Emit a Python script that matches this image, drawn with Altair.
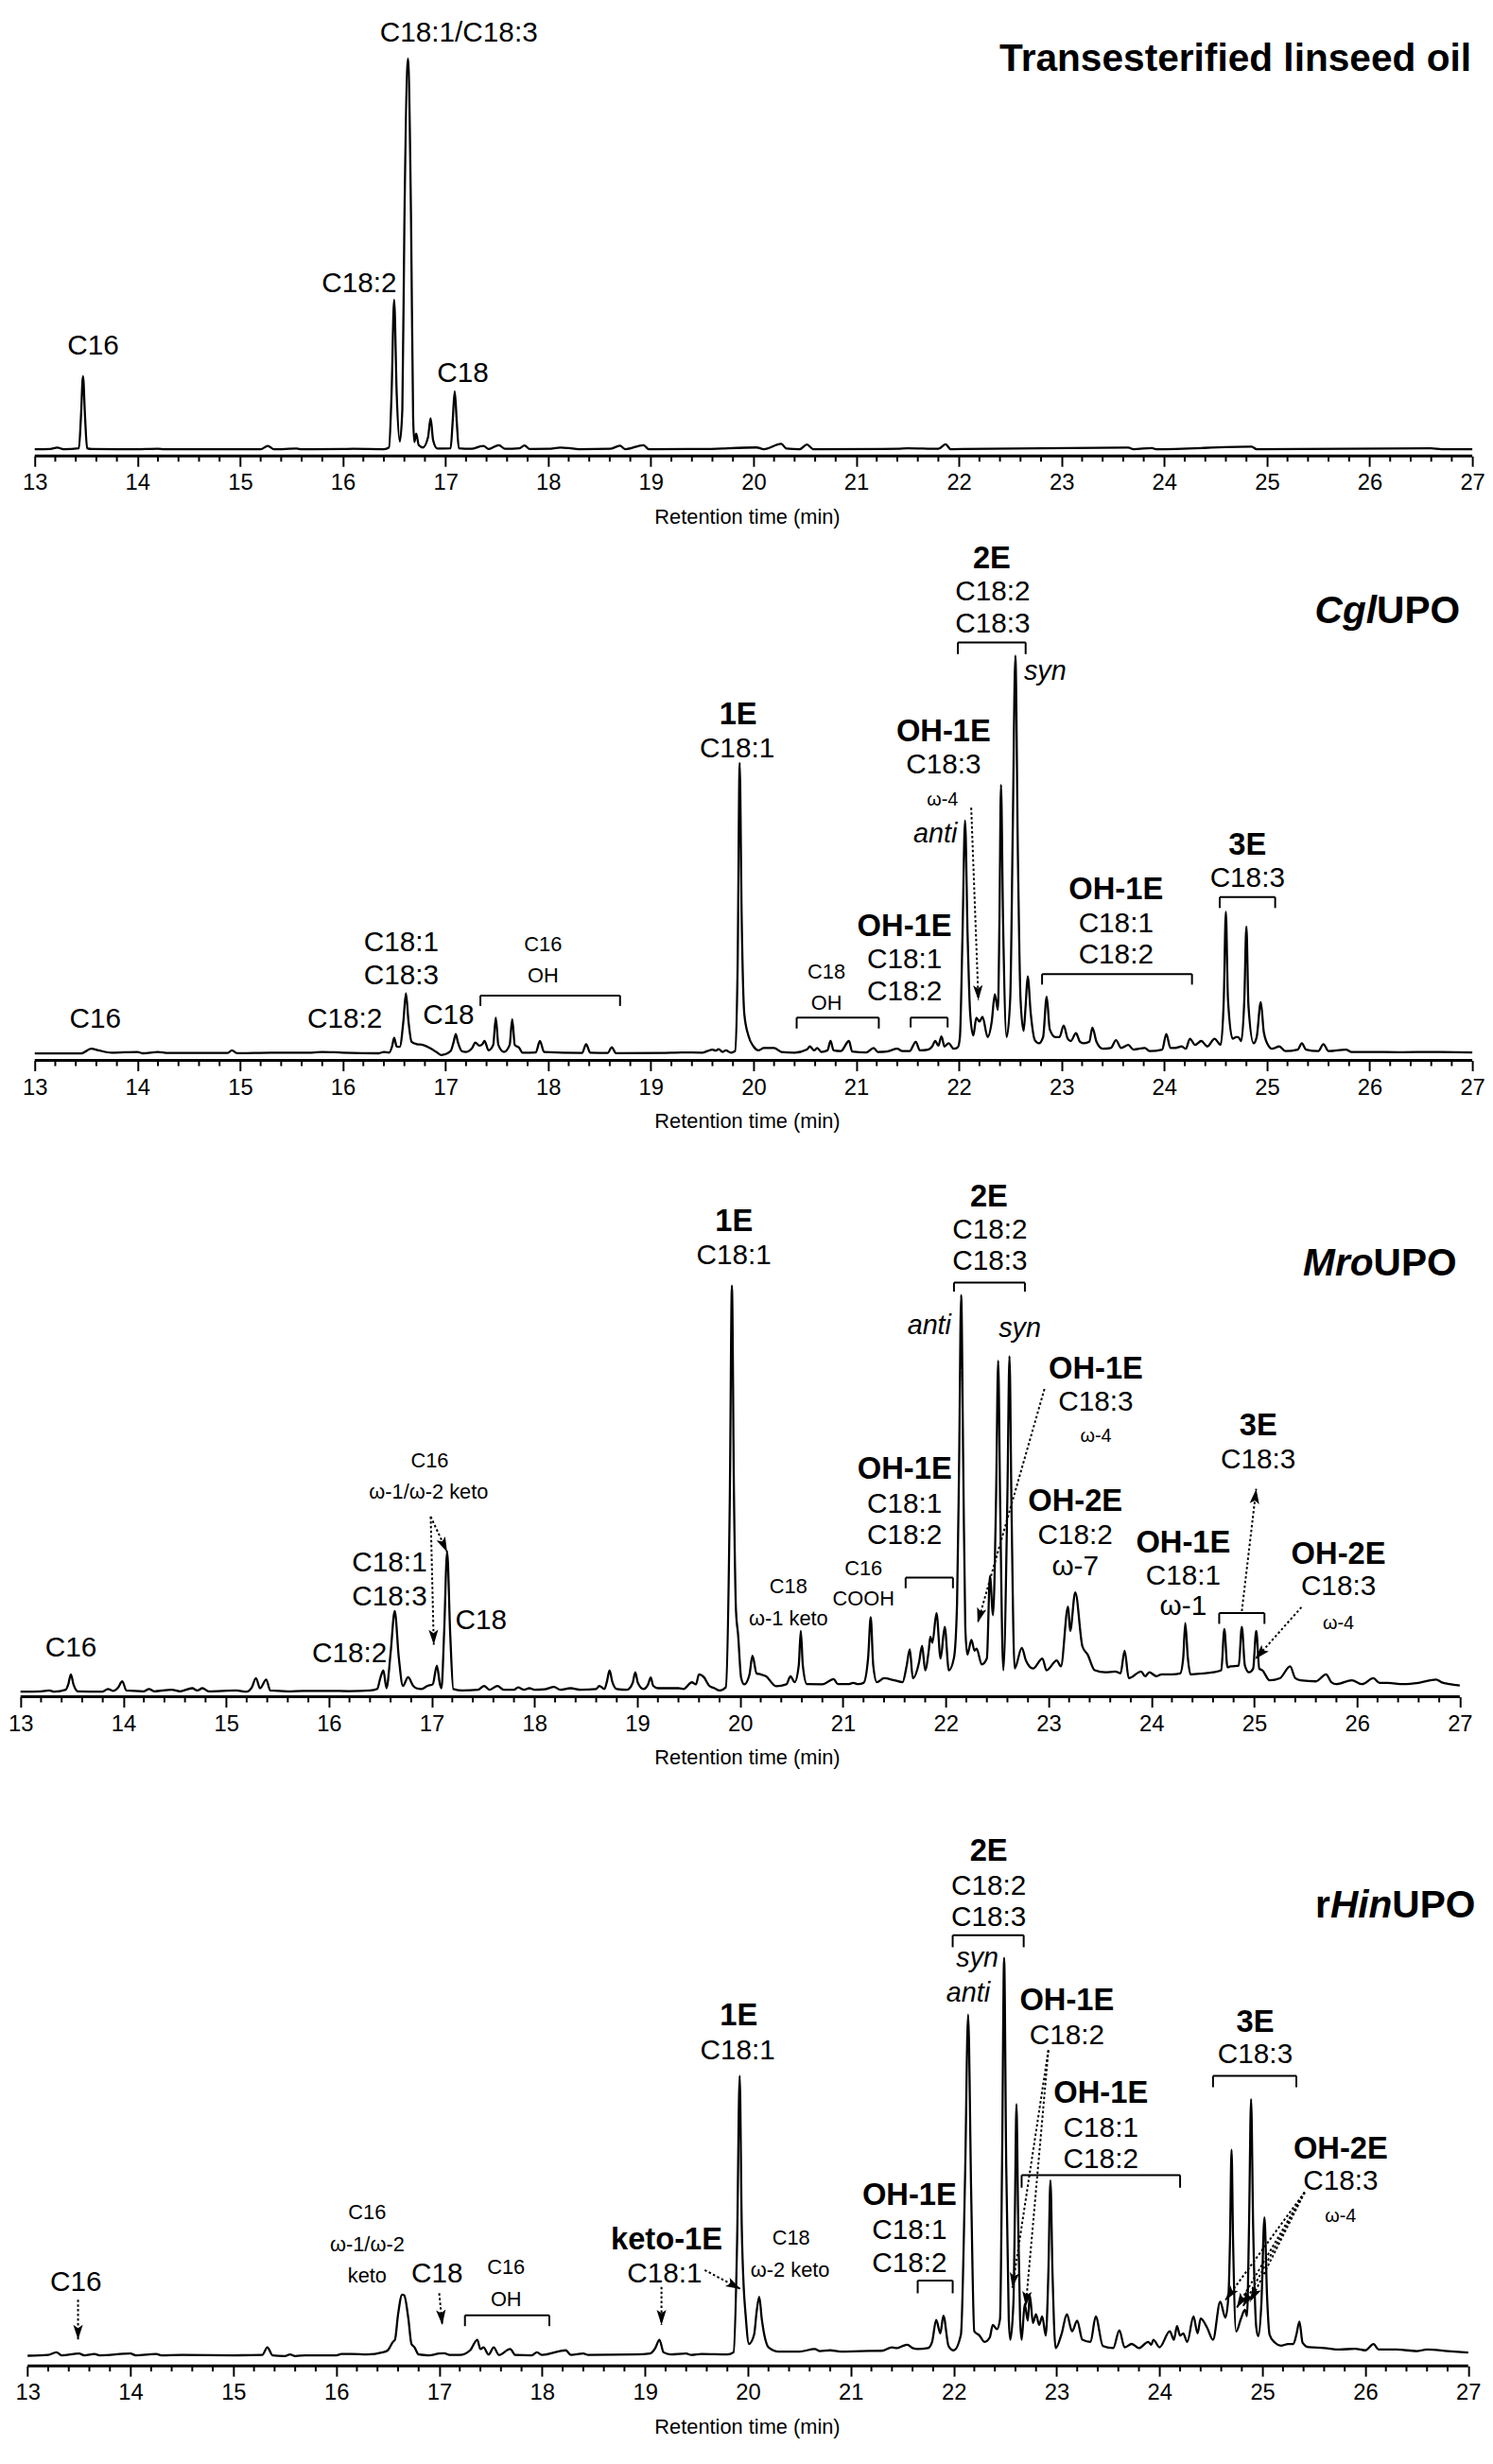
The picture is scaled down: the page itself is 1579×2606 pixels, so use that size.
import math
import altair as alt
import pandas as pd

FONT = "'Liberation Sans', Arial, sans-serif"

# ---------------- data: chromatogram vertices (retention time, signal a.u.) ----------------
trace_linseed = [
    (13.00,4.3),(13.15,4.5),(13.22,5.4),(13.28,4.3),(13.43,5.0),(13.45,25),(13.47,51.3),(13.49,25),(13.51,5.0),
    (13.56,4.5),(13.95,4.3),(14.20,4.7),(14.26,4.3),(15.20,4.3),(15.27,6.5),(15.33,4.3),(15.55,4.8),(15.60,4.3),
    (16.00,4.5),(16.10,4.6),(16.40,4.4),(16.45,5.5),(16.475,40),(16.50,100.3),(16.525,40),(16.555,9.3),(16.58,30),
    (16.60,150),(16.635,255.3),(16.665,150),(16.685,25),(16.697,9.0),(16.715,14.3),(16.74,7.0),(16.78,5.5),
    (16.83,12),(16.855,24.3),(16.88,10),(16.92,4.8),(17.05,5.0),(17.07,22),(17.09,41.5),(17.11,22),(17.13,5.0),
    (17.25,4.6),(17.37,6.5),(17.42,4.5),(17.52,7.0),(17.58,4.6),(17.72,5.0),(17.77,6.8),(17.82,4.5),(18.00,4.6),
    (18.12,5.4),(18.20,5.1),(18.30,4.4),(18.60,4.6),(18.70,6.6),(18.75,4.4),(18.93,7.0),(18.98,4.4),(19.50,4.5),
    (20.03,5.5),(20.10,4.4),(20.27,7.8),(20.32,4.8),(20.45,4.4),(20.52,7.4),(20.58,4.4),(21.40,4.6),(21.50,5.0),
    (21.80,4.6),(21.87,7.5),(21.92,4.4),(23.65,5.4),(23.70,4.4),(23.88,5.1),(23.92,4.4),(24.85,6.0),(24.90,4.4),
    (26.60,5.0),(26.70,4.4),(27.00,4.3),
]

trace_cgl = [
    (13.00,4.5),(13.45,4.5),(13.55,7.5),(13.62,6.5),(13.75,5.0),(14.00,5.5),(14.05,4.6),(14.20,5.5),(14.30,4.8),
    (14.88,4.8),(14.92,6.5),(14.97,4.7),(15.30,5.0),(15.70,5.0),(15.80,5.5),(16.00,5.0),(16.35,4.6),(16.40,5.5),
    (16.45,5.0),(16.48,9.0),(16.50,14.5),(16.525,9.0),(16.555,8.8),(16.59,25),(16.615,43),(16.64,25),(16.67,12),
    (16.72,10.5),(16.78,10),(16.85,8),(16.92,5),(16.96,3.5),(17.05,6),(17.08,12),(17.10,17),(17.12,12),(17.16,6),
    (17.20,5.5),(17.26,8),(17.29,11.5),(17.33,9.5),(17.36,10.5),(17.38,12.5),(17.42,6.5),(17.465,10),(17.49,27.5),
    (17.515,10),(17.57,5.5),(17.625,10),(17.65,26.5),(17.675,10),(17.72,8),(17.75,5),(17.88,5.2),(17.92,12.5),
    (17.96,5.5),(18.33,4.8),(18.37,10.5),(18.41,5),(18.58,4.8),(18.62,8.5),(18.66,4.7),(19.10,4.8),(19.30,5.2),
    (19.50,5),(19.55,6),(19.60,7),(19.63,6.3),(19.66,7.2),(19.70,5.5),(19.73,6.5),(19.78,5),(19.82,6),(19.845,60),
    (19.865,191),(19.885,90),(19.91,30),(19.95,16),(20.00,9),(20.05,6.5),(20.10,8),(20.20,8),(20.27,5.5),(20.40,5),
    (20.52,7),(20.55,9),(20.59,6.5),(20.62,8),(20.66,5.5),(20.72,6.5),(20.75,12.5),(20.78,6.5),(20.85,6),
    (20.93,12.5),(20.96,5.8),(21.10,5.2),(21.17,8),(21.21,5.5),(21.30,5.8),(21.40,7.5),(21.45,6),(21.52,6),
    (21.58,12),(21.62,6.5),(21.70,7),(21.74,9),(21.77,12.5),(21.80,9.5),(21.83,15.5),(21.86,9),(21.90,11),
    (21.95,7.5),(21.99,8.5),(22.01,15),(22.035,80),(22.06,154),(22.085,80),(22.11,30),(22.14,16),(22.17,27.5),
    (22.20,25),(22.23,28),(22.28,15),(22.32,25),(22.35,42.5),(22.38,32.5),(22.395,90),(22.41,177),(22.43,90),
    (22.465,15),(22.50,40),(22.525,150),(22.55,260),(22.575,130),(22.60,40),(22.63,19),(22.65,35),(22.67,54),
    (22.70,30),(22.74,13),(22.78,11),(22.82,15),(22.855,41),(22.885,20),(22.94,15),(22.98,15),(23.02,22.5),
    (23.06,14),(23.09,12.5),(23.14,17.5),(23.18,12),(23.22,11),(23.27,12),(23.30,21),(23.34,12),(23.40,7.5),
    (23.48,8),(23.53,13),(23.58,8),(23.65,10),(23.70,7),(23.81,8),(23.86,6),(23.98,7),(24.02,17),(24.06,8),
    (24.10,8),(24.17,9),(24.21,7.5),(24.25,14),(24.30,10),(24.36,12.5),(24.42,9),(24.49,14),(24.55,10),(24.58,40),
    (24.60,95.5),(24.62,40),(24.665,14),(24.70,15),(24.72,15),(24.75,12.5),(24.78,40),(24.80,86),(24.82,35),
    (24.87,11),(24.90,15),(24.94,37.5),(24.97,18),(25.02,9),(25.05,7.5),(25.12,9),(25.18,6),(25.30,7),(25.34,11),
    (25.38,7),(25.50,6),(25.55,10.5),(25.60,6),(25.77,7),(25.82,5.5),(26.00,5.5),(26.30,5.3),(26.60,5.5),(27.00,5.2),
]

trace_mro = [
    (13.00,3.3),(13.20,3.5),(13.28,4.0),(13.33,3.3),(13.44,4.5),(13.465,8),(13.49,14.4),(13.515,8),(13.56,3.5),
    (13.80,3.3),(13.85,5),(13.90,3.8),(13.95,6),(13.99,10),(14.03,4),(14.20,3.5),(14.25,5),(14.30,3.5),(14.47,4.5),
    (14.55,3.5),(14.67,5.5),(14.72,4),(14.77,5.5),(14.83,3.5),(15.10,4),(15.20,3.3),(15.25,6),(15.29,12),(15.33,5.5),
    (15.39,11),(15.43,4),(15.60,3.5),(15.75,3.8),(16.00,3.8),(16.20,3.6),(16.40,4),(16.47,5),(16.50,12),(16.53,17),
    (16.56,5.5),(16.60,28),(16.64,55),(16.68,25),(16.72,7),(16.77,12.5),(16.82,7),(16.85,5.5),(16.90,5),(16.96,7),
    (17.01,8),(17.05,20),(17.08,8),(17.095,5.5),(17.12,40),(17.15,93),(17.18,40),(17.21,5),(17.30,4),(17.45,4.5),
    (17.51,7),(17.56,4.5),(17.64,7),(17.70,4.5),(17.80,4.5),(17.84,6),(17.90,4.5),(17.95,5.5),(18.00,4.5),
    (18.10,4.8),(18.19,6.3),(18.25,4.5),(18.35,5.5),(18.45,4.5),(18.60,5),(18.63,7),(18.68,5),(18.705,10),
    (18.73,17),(18.755,10),(18.80,5),(18.90,4.5),(18.955,9),(18.98,15.7),(19.005,9),(19.06,5),(19.105,8),
    (19.13,12.4),(19.155,7),(19.20,5.5),(19.40,5.5),(19.45,5),(19.53,9.3),(19.57,8),(19.60,14.4),(19.65,12.4),
    (19.70,7),(19.75,5.5),(19.80,4),(19.86,6),(19.90,130),(19.92,264),(19.94,130),(19.96,55),(19.98,40),(20.01,12),
    (20.04,8),(20.09,14),(20.12,26.3),(20.16,15),(20.20,14.4),(20.25,13.2),(20.35,6.8),(20.45,8),(20.49,13.2),
    (20.53,9.4),(20.57,20),(20.59,42.3),(20.61,20),(20.65,8.1),(20.80,8),(20.91,11.4),(20.95,8.1),(21.05,8.1),
    (21.10,8.9),(21.15,8.1),(21.20,8.9),(21.245,25),(21.27,51.1),(21.295,20),(21.33,9.4),(21.40,11.9),(21.50,10.6),
    (21.58,9.4),(21.62,20),(21.65,30.4),(21.68,11.9),(21.74,22),(21.77,32.7),(21.80,17),(21.835,30),(21.85,38.5),
    (21.87,34.7),(21.91,53.7),(21.95,24.6),(21.99,44.8),(22.03,17),(22.08,25),(22.11,60),(22.13,150),(22.15,258),
    (22.17,150),(22.19,45),(22.21,27.1),(22.25,36.5),(22.28,29.6),(22.30,30.9),(22.35,20.8),(22.40,24.6),
    (22.43,77.7),(22.46,52.4),(22.49,130),(22.51,215.7),(22.53,120),(22.56,17),(22.60,130),(22.62,218.7),
    (22.64,120),(22.67,18.2),(22.74,31.4),(22.78,23.3),(22.85,18.2),(22.94,24.6),(22.98,17),(23.08,23.3),
    (23.12,19.5),(23.19,58),(23.21,42.3),(23.26,67.1),(23.33,32.2),(23.38,27.1),(23.45,17),(23.55,15.7),
    (23.65,16.2),(23.70,15),(23.74,29.6),(23.78,11.9),(23.90,16.2),(23.94,13.2),(23.98,15.7),(24.05,13.2),
    (24.10,14.4),(24.20,14.4),(24.28,15),(24.31,25),(24.33,47.3),(24.355,25),(24.38,14.4),(24.50,15),(24.60,15.7),
    (24.68,17),(24.71,43.5),(24.74,19),(24.77,19.5),(24.85,20),(24.88,44.8),(24.91,20),(24.95,15.7),(24.99,18),
    (25.02,42.3),(25.05,18),(25.08,17),(25.15,10.6),(25.25,11.9),(25.35,19.5),(25.40,11.9),(25.45,10.6),
    (25.60,9.9),(25.70,14.4),(25.75,9.4),(25.80,8.1),(25.95,10.6),(26.05,8.1),(26.16,11.9),(26.22,8.9),(26.30,8.9),
    (26.45,8.1),(26.60,8.9),(26.77,11.1),(26.82,9.4),(26.90,8.1),(27.00,7.3),
]

trace_hin = [
    (13.00,6.5),(13.20,7.0),(13.28,8.7),(13.33,6.8),(13.50,7.9),(13.55,6.8),(13.65,7.6),(13.70,6.8),(14.00,7.9),
    (14.05,6.8),(14.25,7.6),(14.30,6.8),(14.50,7.0),(15.00,6.8),(15.28,7.0),(15.33,11.9),(15.38,6.8),(15.50,6.3),
    (15.55,7.3),(15.60,6.3),(15.70,6.8),(16.00,6.8),(16.05,7.6),(16.15,7.6),(16.30,7.3),(16.45,8.7),(16.50,10),
    (16.55,15.4),(16.57,16.8),(16.60,33),(16.64,45.8),(16.66,45.3),(16.70,30.4),(16.73,14.1),(16.76,11.9),
    (16.80,7.3),(16.90,6.8),(17.00,7.9),(17.05,8.1),(17.10,7.0),(17.20,7.0),(17.30,10),(17.37,16.8),(17.40,10.8),
    (17.43,11.9),(17.48,7.3),(17.53,11.9),(17.58,7.0),(17.69,10.8),(17.74,7.0),(17.90,6.8),(17.95,8.7),(18.00,7.0),
    (18.23,10),(18.28,7.0),(18.40,7.9),(18.45,7.0),(18.90,7.3),(19.05,7.9),(19.10,11.4),(19.14,16.8),(19.18,8.7),
    (19.25,7.3),(19.40,7.9),(19.45,7.0),(19.55,7.6),(19.80,7.3),(19.86,8.7),(19.895,80),(19.92,186.2),(19.94,90),
    (19.96,49.3),(19.975,35),(20.01,14.1),(20.06,20),(20.085,35),(20.11,44.4),(20.135,30),(20.17,16.8),(20.20,11.9),
    (20.30,9.2),(20.50,9.2),(20.65,10.8),(20.70,9.5),(20.80,10),(20.90,9.2),(21.10,9.5),(21.30,9.7),(21.40,11.9),
    (21.45,11.4),(21.50,12.7),(21.55,13.6),(21.60,11.4),(21.65,10.8),(21.75,11.4),(21.79,15.4),(21.83,29.5),
    (21.87,20.9),(21.90,32.2),(21.95,12.7),(22.00,10),(22.07,20),(22.11,120),(22.14,225.5),(22.17,110),(22.20,22.2),
    (22.25,19.5),(22.30,15.4),(22.35,18.2),(22.38,26.3),(22.42,23.6),(22.45,30),(22.47,130),(22.49,262),(22.51,130),
    (22.535,30),(22.55,16.8),(22.58,40),(22.595,100),(22.61,168),(22.625,100),(22.645,30),(22.66,16.8),(22.69,39.8),
    (22.72,29),(22.74,45.3),(22.77,27.6),(22.80,33.1),(22.83,26.3),(22.86,31.7),(22.895,19.5),(22.92,60),(22.94,119),
    (22.96,60),(22.99,11.4),(23.05,20.9),(23.10,33.1),(23.15,22.2),(23.20,29),(23.25,16.8),(23.33,15.4),(23.38,31.7),
    (23.45,12.7),(23.55,11.4),(23.61,22.8),(23.66,11.9),(23.73,14.1),(23.80,11.4),(23.89,15.4),(23.92,13.5),
    (23.94,16.8),(24.00,11.9),(24.10,22.2),(24.14,16.8),(24.17,25.5),(24.20,19.5),(24.23,20.9),(24.27,15.4),
    (24.33,31.7),(24.37,20.9),(24.40,30.4),(24.46,24.9),(24.52,16.8),(24.59,41.2),(24.64,31),(24.67,45),(24.685,80),
    (24.70,138.8),(24.715,80),(24.745,22),(24.79,30),(24.83,36),(24.85,32),(24.87,90),(24.89,171.3),(24.91,90),
    (24.94,25),(24.96,19),(24.99,40),(25.02,95.4),(25.045,45),(25.07,20),(25.12,15),(25.18,13),(25.25,14),(25.30,14),
    (25.33,20),(25.36,28.5),(25.39,15),(25.45,12),(25.60,11.5),(25.75,10.5),(25.90,11),(26.00,10),(26.08,14),
    (26.13,10.5),(26.30,10.5),(26.50,9.5),(26.60,10.5),(26.80,9.5),(27.00,8.5),
]

# ---------------- annotations: (time, height, text, kind) ----------------
labels_linseed = [
    (13.57, 65.1, "C16", "big"),
    (16.16, 105.3, "C18:2", "big"),
    (17.13, 266.0, "C18:1/C18:3", "big"),
    (17.17, 47.3, "C18", "big"),
]
title_linseed = ([("Transesterified linseed oil", "b")], 26.99, 247.4)

labels_cgl = [
    (13.59, 21.2, "C16", "big"), (16.02, 21.2, "C18:2", "big"),
    (16.57, 70.4, "C18:1", "big"), (16.57, 49.2, "C18:3", "big"),
    (17.03, 23.7, "C18", "big"),
    (17.95, 70.4, "C16", "small"), (17.95, 49.9, "OH", "small"),
    (19.85, 216.0, "1E", "bold"), (19.84, 194.8, "C18:1", "big"),
    (22.32, 315.8, "2E", "bold"), (22.33, 295.1, "C18:2", "big"), (22.33, 274.7, "C18:3", "big"),
    (22.84, 244.1, "syn", "ital"),
    (21.85, 204.8, "OH-1E", "bold"), (21.85, 184.3, "C18:3", "big"), (21.84, 163.6, "ω-4", "tiny"),
    (21.77, 139.9, "anti", "ital"),
    (21.47, 79.9, "OH-1E", "bold"), (21.47, 59.2, "C18:1", "big"), (21.47, 38.7, "C18:2", "big"),
    (20.71, 52.5, "C18", "small"), (20.71, 32.5, "OH", "small"),
    (23.53, 103.6, "OH-1E", "bold"), (23.53, 82.4, "C18:1", "big"), (23.53, 62.4, "C18:2", "big"),
    (24.81, 132.3, "3E", "bold"), (24.81, 111.6, "C18:3", "big"),
]
title_cgl = ([("Cgl", "bi"), ("UPO", "b")], 26.88, 280.9)
brackets_cgl = [(17.34, 18.70, 41.7, 35.0), (20.42, 21.22, 27.5, 20.5), (21.53, 21.89, 27.5, 21.2),
                (21.99, 22.65, 268.4, 260.9), (22.81, 24.27, 55.5, 48.7), (24.54, 25.08, 104.9, 97.9)]
arrows_cgl = [(22.12, 162.3, 22.19, 38.7)]

labels_mro = [
    (13.49, 25.8, "C16", "big"), (16.20, 22.1, "C18:2", "big"),
    (16.59, 80.3, "C18:1", "big"), (16.59, 58.8, "C18:3", "big"),
    (17.48, 43.6, "C18", "big"),
    (16.98, 147.4, "C16", "small"), (16.97, 127.1, "ω-1/ω-2 keto", "small"),
    (19.94, 299.3, "1E", "bold"), (19.94, 277.8, "C18:1", "big"),
    (22.42, 314.5, "2E", "bold"), (22.43, 294.3, "C18:2", "big"), (22.43, 274.0, "C18:3", "big"),
    (21.84, 232.8, "anti", "ital"), (22.72, 231.0, "syn", "ital"),
    (23.46, 204.4, "OH-1E", "bold"), (23.46, 183.6, "C18:3", "big"), (23.46, 163.9, "ω-4", "tiny"),
    (21.60, 139.8, "OH-1E", "bold"), (21.60, 118.3, "C18:1", "big"), (21.60, 98.0, "C18:2", "big"),
    (21.20, 78.3, "C16", "small"), (21.20, 58.8, "COOH", "small"),
    (20.47, 66.3, "C18", "small"), (20.47, 46.1, "ω-1 keto", "small"),
    (23.26, 119.5, "OH-2E", "bold"), (23.26, 98.0, "C18:2", "big"), (23.26, 77.8, "ω-7", "big"),
    (24.31, 92.9, "OH-1E", "bold"), (24.31, 72.2, "C18:1", "big"), (24.31, 52.4, "ω-1", "big"),
    (25.04, 167.7, "3E", "bold"), (25.04, 146.7, "C18:3", "big"),
    (25.82, 85.4, "OH-2E", "bold"), (25.82, 65.1, "C18:3", "big"), (25.82, 43.6, "ω-4", "tiny"),
]
title_mro = ([("Mro", "bi"), ("UPO", "b")], 26.97, 270.2)
brackets_mro = [(21.61, 22.07, 76.5, 69.7), (22.08, 22.77, 265.9, 260.1), (24.66, 25.10, 53.7, 46.8)]
arrows_mro = [(16.99, 115.7, 17.02, 33.4), (16.99, 115.7, 17.15, 92.9), (22.96, 197.6, 22.31, 47.4),
              (24.88, 55.0, 25.02, 133.5), (25.46, 57.5, 25.01, 24.1)]

labels_hin = [
    (13.47, 48.0, "C16", "big"),
    (16.30, 94.0, "C16", "small"), (16.30, 73.7, "ω-1/ω-2", "small"), (16.30, 53.4, "keto", "small"),
    (16.98, 53.4, "C18", "big"),
    (17.65, 58.8, "C16", "small"), (17.65, 38.5, "OH", "small"),
    (19.21, 75.1, "keto-1E", "bold"), (19.19, 53.4, "C18:1", "big"),
    (19.91, 218.7, "1E", "bold"), (19.90, 197.0, "C18:1", "big"),
    (20.42, 77.8, "C18", "small"), (20.41, 57.5, "ω-2 keto", "small"),
    (21.57, 103.5, "OH-1E", "bold"), (21.57, 81.3, "C18:1", "big"), (21.57, 60.2, "C18:2", "big"),
    (22.34, 324.4, "2E", "bold"), (22.34, 302.7, "C18:2", "big"), (22.34, 282.4, "C18:3", "big"),
    (22.23, 256.6, "syn", "ital"), (22.14, 233.6, "anti", "ital"),
    (23.10, 228.2, "OH-1E", "bold"), (23.10, 206.5, "C18:2", "big"),
    (23.43, 168.6, "OH-1E", "bold"), (23.43, 146.9, "C18:1", "big"), (23.43, 127.1, "C18:2", "big"),
    (24.93, 214.6, "3E", "bold"), (24.93, 194.3, "C18:3", "big"),
    (25.76, 133.3, "OH-2E", "bold"), (25.76, 113.0, "C18:3", "big"), (25.76, 92.7, "ω-4", "tiny"),
]
title_hin = ([("r", "b"), ("Hin", "bi"), ("UPO", "b")], 27.07, 287.8)
brackets_hin = [(17.25, 18.07, 32.5, 25.5), (21.65, 21.99, 54.8, 46.6), (21.99, 22.68, 276.5, 268.8),
                (22.66, 24.20, 122.5, 114.4), (24.52, 25.33, 186.2, 178.9)]
arrows_hin = [(13.49, 42.5, 13.49, 16.8), (17.00, 46.6, 17.03, 26.3), (19.16, 50.7, 19.16, 26.3),
              (19.58, 61.5, 19.93, 49.3), (22.92, 202.7, 22.57, 50.2), (22.92, 202.7, 22.70, 38.2),
              (25.41, 111.4, 24.64, 42.2), (25.41, 111.4, 24.75, 37.2), (25.41, 111.4, 24.81, 38.0),
              (25.41, 111.4, 24.88, 41.2)]

MAJOR_TICKS = list(range(13, 28))
MINOR_TICKS = [round(13 + 0.2 * i, 1) for i in range(71) if i % 5 != 0]

# ---------------- styling ----------------
W = 1560
K = 1.662  # px per signal unit
STYLES = {
    "big": dict(fontSize=30),
    "bold": dict(fontSize=33, fontWeight="bold"),
    "small": dict(fontSize=22),
    "tiny": dict(fontSize=20),
    "ital": dict(fontSize=29, fontStyle="italic"),
}
TITLE_SIZE = 41
# approximate advance widths (em) of Arial/Liberation Sans Bold, used to butt title pieces together
EM_BOLD = {"U": .722, "P": .667, "O": .778, "C": .722, "g": .611, "l": .278, "M": .833,
           "r": .389, "o": .611, "H": .722, "i": .278, "n": .611}
ARROW = "M0,0 L0.32,1 L0,0.78 L-0.32,1 Z"


def panel(trace, labels, brackets, arrows, title, h, xdom):
    xs = alt.Scale(domain=list(xdom), nice=False, zero=False)
    ys = alt.Scale(domain=[0, h / K], nice=False, zero=False)
    ppm = W / (xdom[1] - xdom[0])

    axis = alt.Axis(values=MAJOR_TICKS, format="d", domain=False, grid=False,
                    tickSize=11, tickWidth=2, tickColor="black",
                    labelFont=FONT, labelFontSize=24, labelColor="black", labelPadding=6,
                    labelFlush=False, labelOverlap=False,
                    title="Retention time (min)", titleFont=FONT, titleFontSize=22,
                    titleFontWeight="normal", titleColor="black", titlePadding=14)

    def X(f):
        return alt.X(f, type="quantitative", scale=xs, axis=axis)

    def Y(f):
        return alt.Y(f, type="quantitative", scale=ys, axis=None)

    df = pd.DataFrame(trace, columns=["t", "v"])
    layers = [
        alt.Chart(df).mark_line(color="black", strokeWidth=2.3, interpolate="monotone").encode(
            x=X("t"), y=Y("v")),
        alt.Chart(pd.DataFrame({"t": [MAJOR_TICKS[0]], "b": [MAJOR_TICKS[-1]]})).mark_rule(
            color="black", strokeWidth=3).encode(x=X("t"), x2="b:Q", y=alt.value(h)),
        alt.Chart(pd.DataFrame({"t": MINOR_TICKS})).mark_rule(color="black", strokeWidth=2).encode(
            x=X("t"), y=alt.value(h), y2=alt.value(h + 6)),
    ]

    if brackets:
        rows = []
        for tl, tr, yt, yl in brackets:
            rows.append((tl, tr, yt, yt))
            rows.append((tl, tl, yl, yt))
            rows.append((tr, tr, yl, yt))
        bdf = pd.DataFrame(rows, columns=["t", "x2", "y", "y2"])
        layers.append(alt.Chart(bdf).mark_rule(color="black", strokeWidth=2).encode(
            x=X("t"), x2="x2:Q", y=Y("y"), y2="y2:Q"))

    if arrows:
        adf = pd.DataFrame(arrows, columns=["t", "y", "t1", "y1"])
        adf["angle"] = [
            math.degrees(math.atan2((r.t1 - r.t) * ppm, (r.y1 - r.y) * K)) % 360
            for r in adf.itertuples()]
        layers.append(alt.Chart(adf).mark_rule(color="black", strokeWidth=2, strokeDash=[2.5, 2.5]).encode(
            x=X("t"), x2="t1:Q", y=Y("y"), y2="y1:Q"))
        hdf = adf[["t1", "y1", "angle"]].rename(columns={"t1": "t", "y1": "y"})
        layers.append(alt.Chart(hdf).mark_point(shape=ARROW, filled=True, size=1024, color="black",
                                                opacity=1, strokeWidth=0).encode(
            x=X("t"), y=Y("y"), angle=alt.Angle("angle:Q", scale=None)))

    ldf = pd.DataFrame(labels, columns=["t", "y", "text", "kind"])
    for kind, st in STYLES.items():
        sub = ldf[ldf.kind == kind]
        if len(sub) == 0:
            continue
        params = dict(font=FONT, color="black", baseline="alphabetic", align="center")
        params.update(st)
        layers.append(alt.Chart(sub).mark_text(**params).encode(
            x=X("t"), y=Y("y"), text="text:N"))

    # panel title, pieces butted right-to-left from the right edge
    parts, right, ty = title
    cur = right
    for text, style in reversed(parts):
        tdf = pd.DataFrame({"t": [cur], "y": [ty], "text": [text]})
        layers.append(alt.Chart(tdf).mark_text(
            font=FONT, color="black", baseline="alphabetic", align="right", fontSize=TITLE_SIZE,
            fontWeight="bold", fontStyle="italic" if style == "bi" else "normal").encode(
            x=X("t"), y=Y("y"), text="text:N"))
        width_px = sum(EM_BOLD.get(c, 0.55) for c in text) * TITLE_SIZE
        cur -= width_px / ppm

    return alt.layer(*layers).properties(width=W, height=h)


p1 = panel(trace_linseed, labels_linseed, [], [], title_linseed, 463, (12.8175, 27.0548))
p2 = panel(trace_cgl, labels_cgl, brackets_cgl, arrows_cgl, title_cgl, 561, (12.8175, 27.0548))
p3 = panel(trace_mro, labels_mro, brackets_mro, arrows_mro, title_mro, 595, (12.9562, 27.1767))
p4 = panel(trace_hin, labels_hin, brackets_hin, arrows_hin, title_hin, 630, (12.887, 27.0946))

chart = alt.vconcat(p1, p2, p3, p4, spacing=8, padding=0, background="white").configure_view(stroke=None)

chart.save("out.html", embed_options={"renderer": "svg", "actions": False})
